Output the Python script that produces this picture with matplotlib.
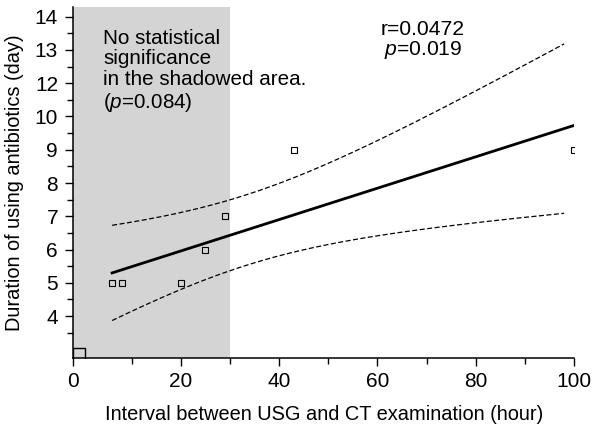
import numpy as np
import matplotlib
matplotlib.use("Agg")
import matplotlib.pyplot as plt
from matplotlib.ticker import FixedLocator

# data
interval_hr = [6, 8, 20, 25, 29, 43, 100]
duration_day = [5, 5, 5, 6, 7, 9, 9]
corner_x = [-0.8]          # the larger square sitting on the x axis
corner_y = [2.85]
shade_end = 30
ytick_pos = [4, 5, 6, 7, 8, 9, 10, 11, 12, 13]
ytick_labels = ["4", "5", "6", "7", "8", "9", "10", "12", "13", "14"]
xtick_pos = [-1.9, 20, 40, 60, 80, 100]
xtick_labels = ["0", "20", "40", "60", "80", "100"]

plt.rcParams['font.family'] = ['Liberation Sans', 'DejaVu Sans']
plt.rcParams['mathtext.fontset'] = 'custom'
plt.rcParams['mathtext.rm'] = 'Liberation Sans'
plt.rcParams['mathtext.it'] = 'Liberation Sans:italic'

x = np.array(interval_hr, dtype=float)
y = np.array(duration_day, dtype=float)

# least squares fit + 95% confidence band of the mean
slope, icpt = np.polyfit(x, y, 1)
n = len(x)
resid = y - (slope * x + icpt)
s = np.sqrt(np.sum(resid ** 2) / (n - 2))
sxx = np.sum((x - x.mean()) ** 2)
t95 = 2.571  # t(0.975, df=5)
xb = np.linspace(x.min(), 98, 200)
yb = slope * xb + icpt
half = t95 * s * np.sqrt(1.0 / n + (xb - x.mean()) ** 2 / sxx)
xl = np.array([x.min(), x.max()])

fig = plt.figure(figsize=(5.94, 4.30), dpi=100)
ax = fig.add_axes([0.1234, 0.1674, 0.8429, 0.817])

ax.axvspan(-1.9, shade_end, color='#d4d4d4', lw=0, zorder=0)
ax.plot(xl, slope * xl + icpt, color='black', lw=2.0, zorder=3)
ax.plot(xb, yb + half, color='black', lw=0.9, dashes=(4, 2), zorder=3)
ax.plot(xb, yb - half, color='black', lw=0.9, dashes=(4, 2), zorder=3)
ax.plot(x, y, ls='none', marker='s', ms=5, mfc='none', mec='black', mew=0.8, zorder=4)
ax.plot(corner_x, corner_y, ls='none', marker='s', ms=8, mfc='none', mec='black',
        mew=1.0, zorder=4, clip_on=True)

ax.text(4.2, 12.63, "No statistical\nsignificance\nin the shadowed area.\n($\\it{p}$=0.084)",
        fontsize=14.9, va='top', ha='left', linespacing=1.1)
ax.text(69.3, 12.9, "r=0.0472\n$\\it{p}$=0.019", fontsize=15.2, va='top', ha='center',
        linespacing=1.0)

ax.set_xlim(-1.9, 100)
ax.set_ylim(2.74, 13.3)
ax.xaxis.set_major_locator(FixedLocator(xtick_pos))
ax.set_xticklabels(xtick_labels)
ax.xaxis.set_minor_locator(FixedLocator([10, 30, 50, 70, 90]))
ax.yaxis.set_major_locator(FixedLocator(ytick_pos))
ax.set_yticklabels(ytick_labels)
ax.yaxis.set_minor_locator(FixedLocator(np.arange(3.5, 13, 1.0)))

for side in ('top', 'right'):
    ax.spines[side].set_visible(False)
for side in ('left', 'bottom'):
    ax.spines[side].set_linewidth(1.1)
ax.tick_params(which='major', length=6, width=1.0, labelsize=15, direction='out')
ax.tick_params(which='minor', length=4.3, width=1.0, direction='out')
ax.tick_params(axis='x', which='major', pad=4)
ax.tick_params(axis='y', which='major', pad=5)

ax.set_xlabel("Interval between USG and CT examination (hour)", fontsize=14.4, labelpad=10)
ax.set_ylabel("Duration of using antibiotics (day)", fontsize=14.4, labelpad=8)

fig.savefig("out.png", dpi=100)
